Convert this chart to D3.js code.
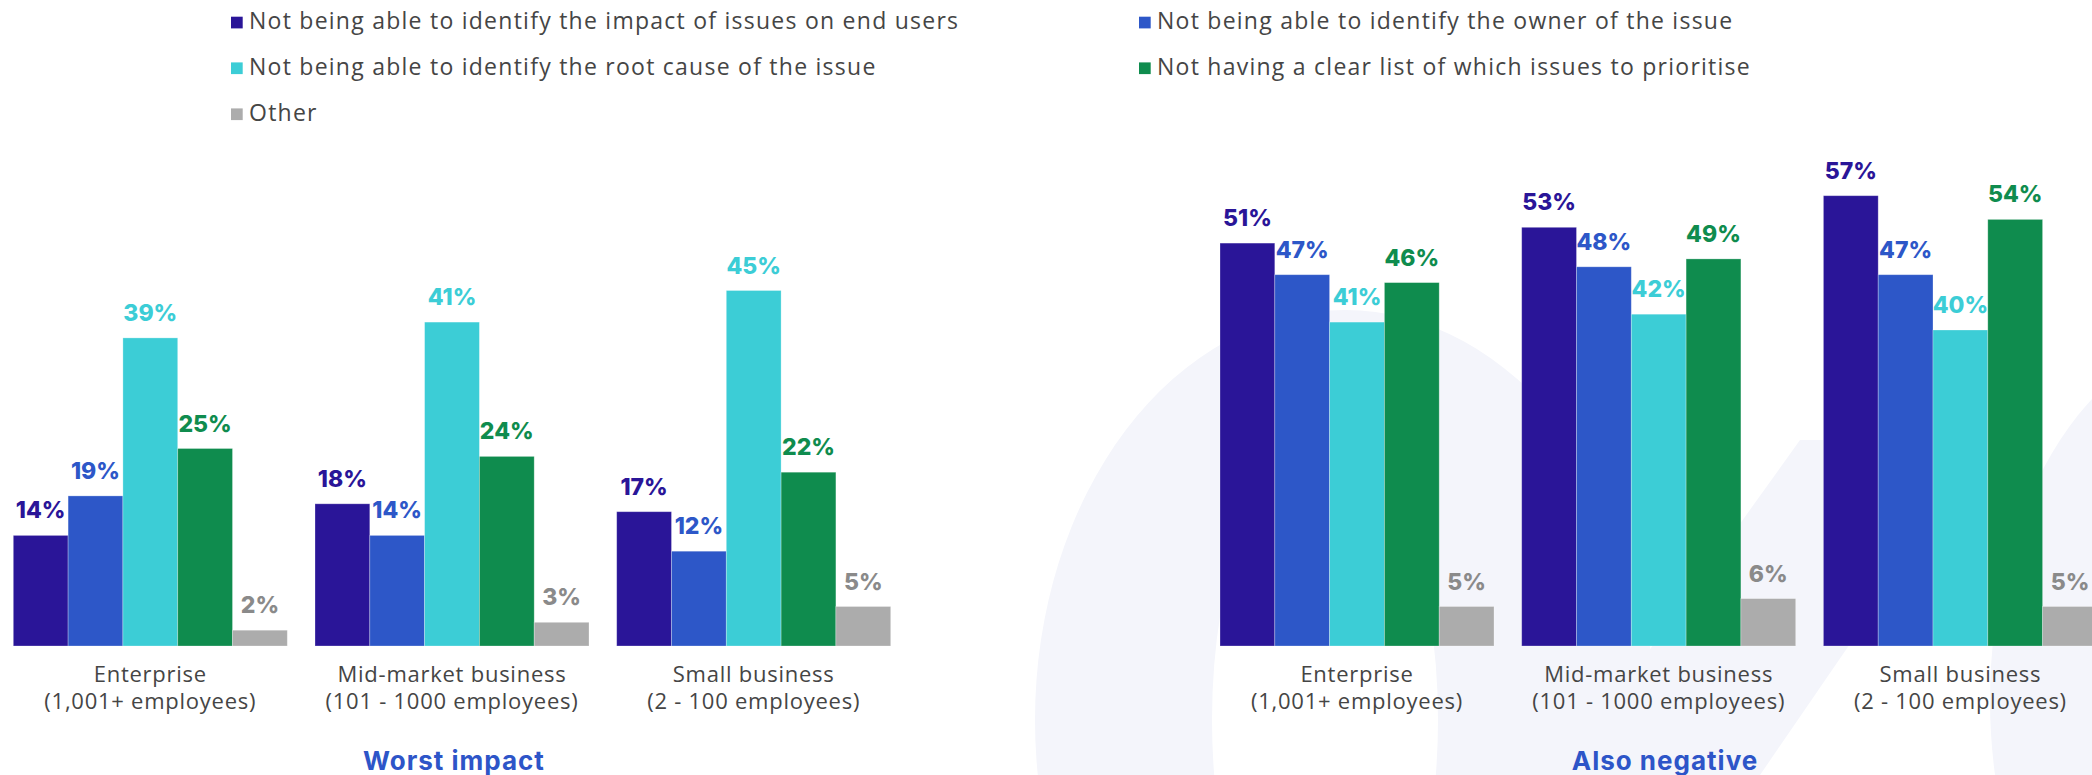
<!DOCTYPE html>
<html>
<head>
<meta charset="utf-8">
<script src="https://cdn.jsdelivr.net/npm/d3@7"></script>
<style>
  html, body { margin: 0; padding: 0; background: #ffffff; }
  svg { display: block; }
</style>
</head>
<body>
<div id="chart"></div>
<script>
// Company-size groups shown along each chart
const categories = [
  ["Enterprise", "(1,001+ employees)"],
  ["Mid-market business", "(101 - 1000 employees)"],
  ["Small business", "(2 - 100 employees)"]
];

// Series (legend entries), in bar order within each group
const seriesNames = [
  "Not being able to identify the impact of issues on end users",
  "Not being able to identify the owner of the issue",
  "Not being able to identify the root cause of the issue",
  "Not having a clear list of which issues to prioritise",
  "Other"
];
const seriesColors = ["#2a1598", "#2d57c8", "#3ccdd6", "#0f8c4e", "#acacac"];
const labelColors  = ["#2a1598", "#2d57c8", "#3ccdd6", "#0f8c4e", "#8a8a8a"];

// Percentages per series, one value per category
const worstImpact = [
  [14, 18, 17],
  [19, 14, 12],
  [39, 41, 45],
  [25, 24, 22],
  [2, 3, 5]
];
const alsoNegative = [
  [51, 53, 57],
  [47, 48, 47],
  [41, 42, 40],
  [46, 49, 54],
  [5, 6, 5]
];

const panelTitles = ["Worst impact", "Also negative"];

const W = 2092, H = 775;
const svg = d3.select("#chart").append("svg")
  .attr("width", W).attr("height", H)
  .attr("viewBox", `0 0 ${W} ${H}`);

// Faint decorative shapes in the background on the right
const deco = svg.append("g").attr("fill", "#f4f5fb");
function ellipsePath(cx, cy, rx, ry) {
  return `M${cx - rx},${cy} a${rx},${ry} 0 1,0 ${2 * rx},0 a${rx},${ry} 0 1,0 ${-2 * rx},0 Z`;
}
deco.append("path")
  .attr("fill-rule", "evenodd")
  .attr("d", ellipsePath(1345, 720, 310, 410) + ellipsePath(1325, 720, 113, 280));
deco.append("path")
  .attr("d", "M1560,775 L1800,440 L1990,440 L1760,775 Z");
deco.append("path")
  .attr("d", ellipsePath(2230, 700, 240, 368));

// Shared vertical scale (percent)
const y = d3.scaleLinear().domain([0, 60]).range([646, 646 - 60 * 7.9]);

const fontBody = "'Open Sans', 'DejaVu Sans', sans-serif";
const fontBold = "Inter, 'Open Sans', sans-serif";

// Legend: two columns, filled row by row
const legendCols = [231, 1139];
const legendRows = [29.3, 75, 121];
const legend = svg.append("g");
seriesNames.forEach((name, i) => {
  const cx = legendCols[i % 2];
  const by = legendRows[Math.floor(i / 2)];
  const g = legend.append("g");
  g.append("rect")
    .attr("x", cx).attr("y", by - 12.6)
    .attr("width", 11.7).attr("height", 11.7)
    .attr("fill", seriesColors[i]);
  g.append("text")
    .attr("x", cx + 18).attr("y", by)
    .attr("font-family", fontBody)
    .attr("font-size", 23)
    .attr("letter-spacing", 1.25)
    .attr("fill", "#454545")
    .text(name);
});

function drawPanel(data, x0, x1, title, titleX) {
  const g = svg.append("g");
  const xGroup = d3.scaleBand()
    .domain(d3.range(categories.length))
    .range([x0, x1])
    .paddingInner(0.0918)
    .paddingOuter(0);
  const xBar = d3.scaleBand()
    .domain(d3.range(seriesNames.length))
    .range([0, xGroup.bandwidth()])
    .padding(0);

  const groups = g.selectAll("g.grp")
    .data(categories.map((c, ci) => ci))
    .join("g")
    .attr("class", "grp")
    .attr("transform", ci => `translate(${xGroup(ci)},0)`);

  groups.each(function (ci) {
    const gg = d3.select(this);
    const vals = data.map((s, si) => ({ si, v: s[ci] }));
    gg.selectAll("rect")
      .data(vals)
      .join("rect")
      .attr("x", d => xBar(d.si))
      .attr("y", d => y(d.v))
      .attr("width", xBar.bandwidth())
      .attr("height", d => y(0) - y(d.v))
      .attr("fill", d => seriesColors[d.si])
      .attr("stroke", "rgba(255,255,255,0.35)")
      .attr("stroke-width", 0.8);
    gg.selectAll("text.val")
      .data(vals)
      .join("text")
      .attr("class", "val")
      .attr("x", d => xBar(d.si) + xBar.bandwidth() / 2)
      .attr("y", d => y(d.v) - 17)
      .attr("text-anchor", "middle")
      .attr("font-family", fontBold)
      .attr("font-weight", 800)
      .attr("font-size", 23)
      .attr("fill", d => labelColors[d.si])
      .text(d => d.v + "%");
    const lbl = gg.append("text")
      .attr("text-anchor", "middle")
      .attr("font-family", fontBody)
      .attr("font-size", 22)
      .attr("letter-spacing", 0.75)
      .attr("fill", "#454545");
    categories[ci].forEach((line, li) => {
      lbl.append("tspan")
        .attr("x", xGroup.bandwidth() / 2)
        .attr("y", 681.7 + li * 27.6)
        .text(line);
    });
  });

  g.append("text")
    .attr("x", titleX).attr("y", 769.5)
    .attr("text-anchor", "middle")
    .attr("font-family", fontBold)
    .attr("font-weight", 700)
    .attr("font-size", 26)
    .attr("letter-spacing", 1)
    .attr("fill", "#2d55c8")
    .text(title);
}

drawPanel(worstImpact, 13.3, 890.7, panelTitles[0], 454);
drawPanel(alsoNegative, 1220, 2097.4, panelTitles[1], 1665);
</script>
</body>
</html>
